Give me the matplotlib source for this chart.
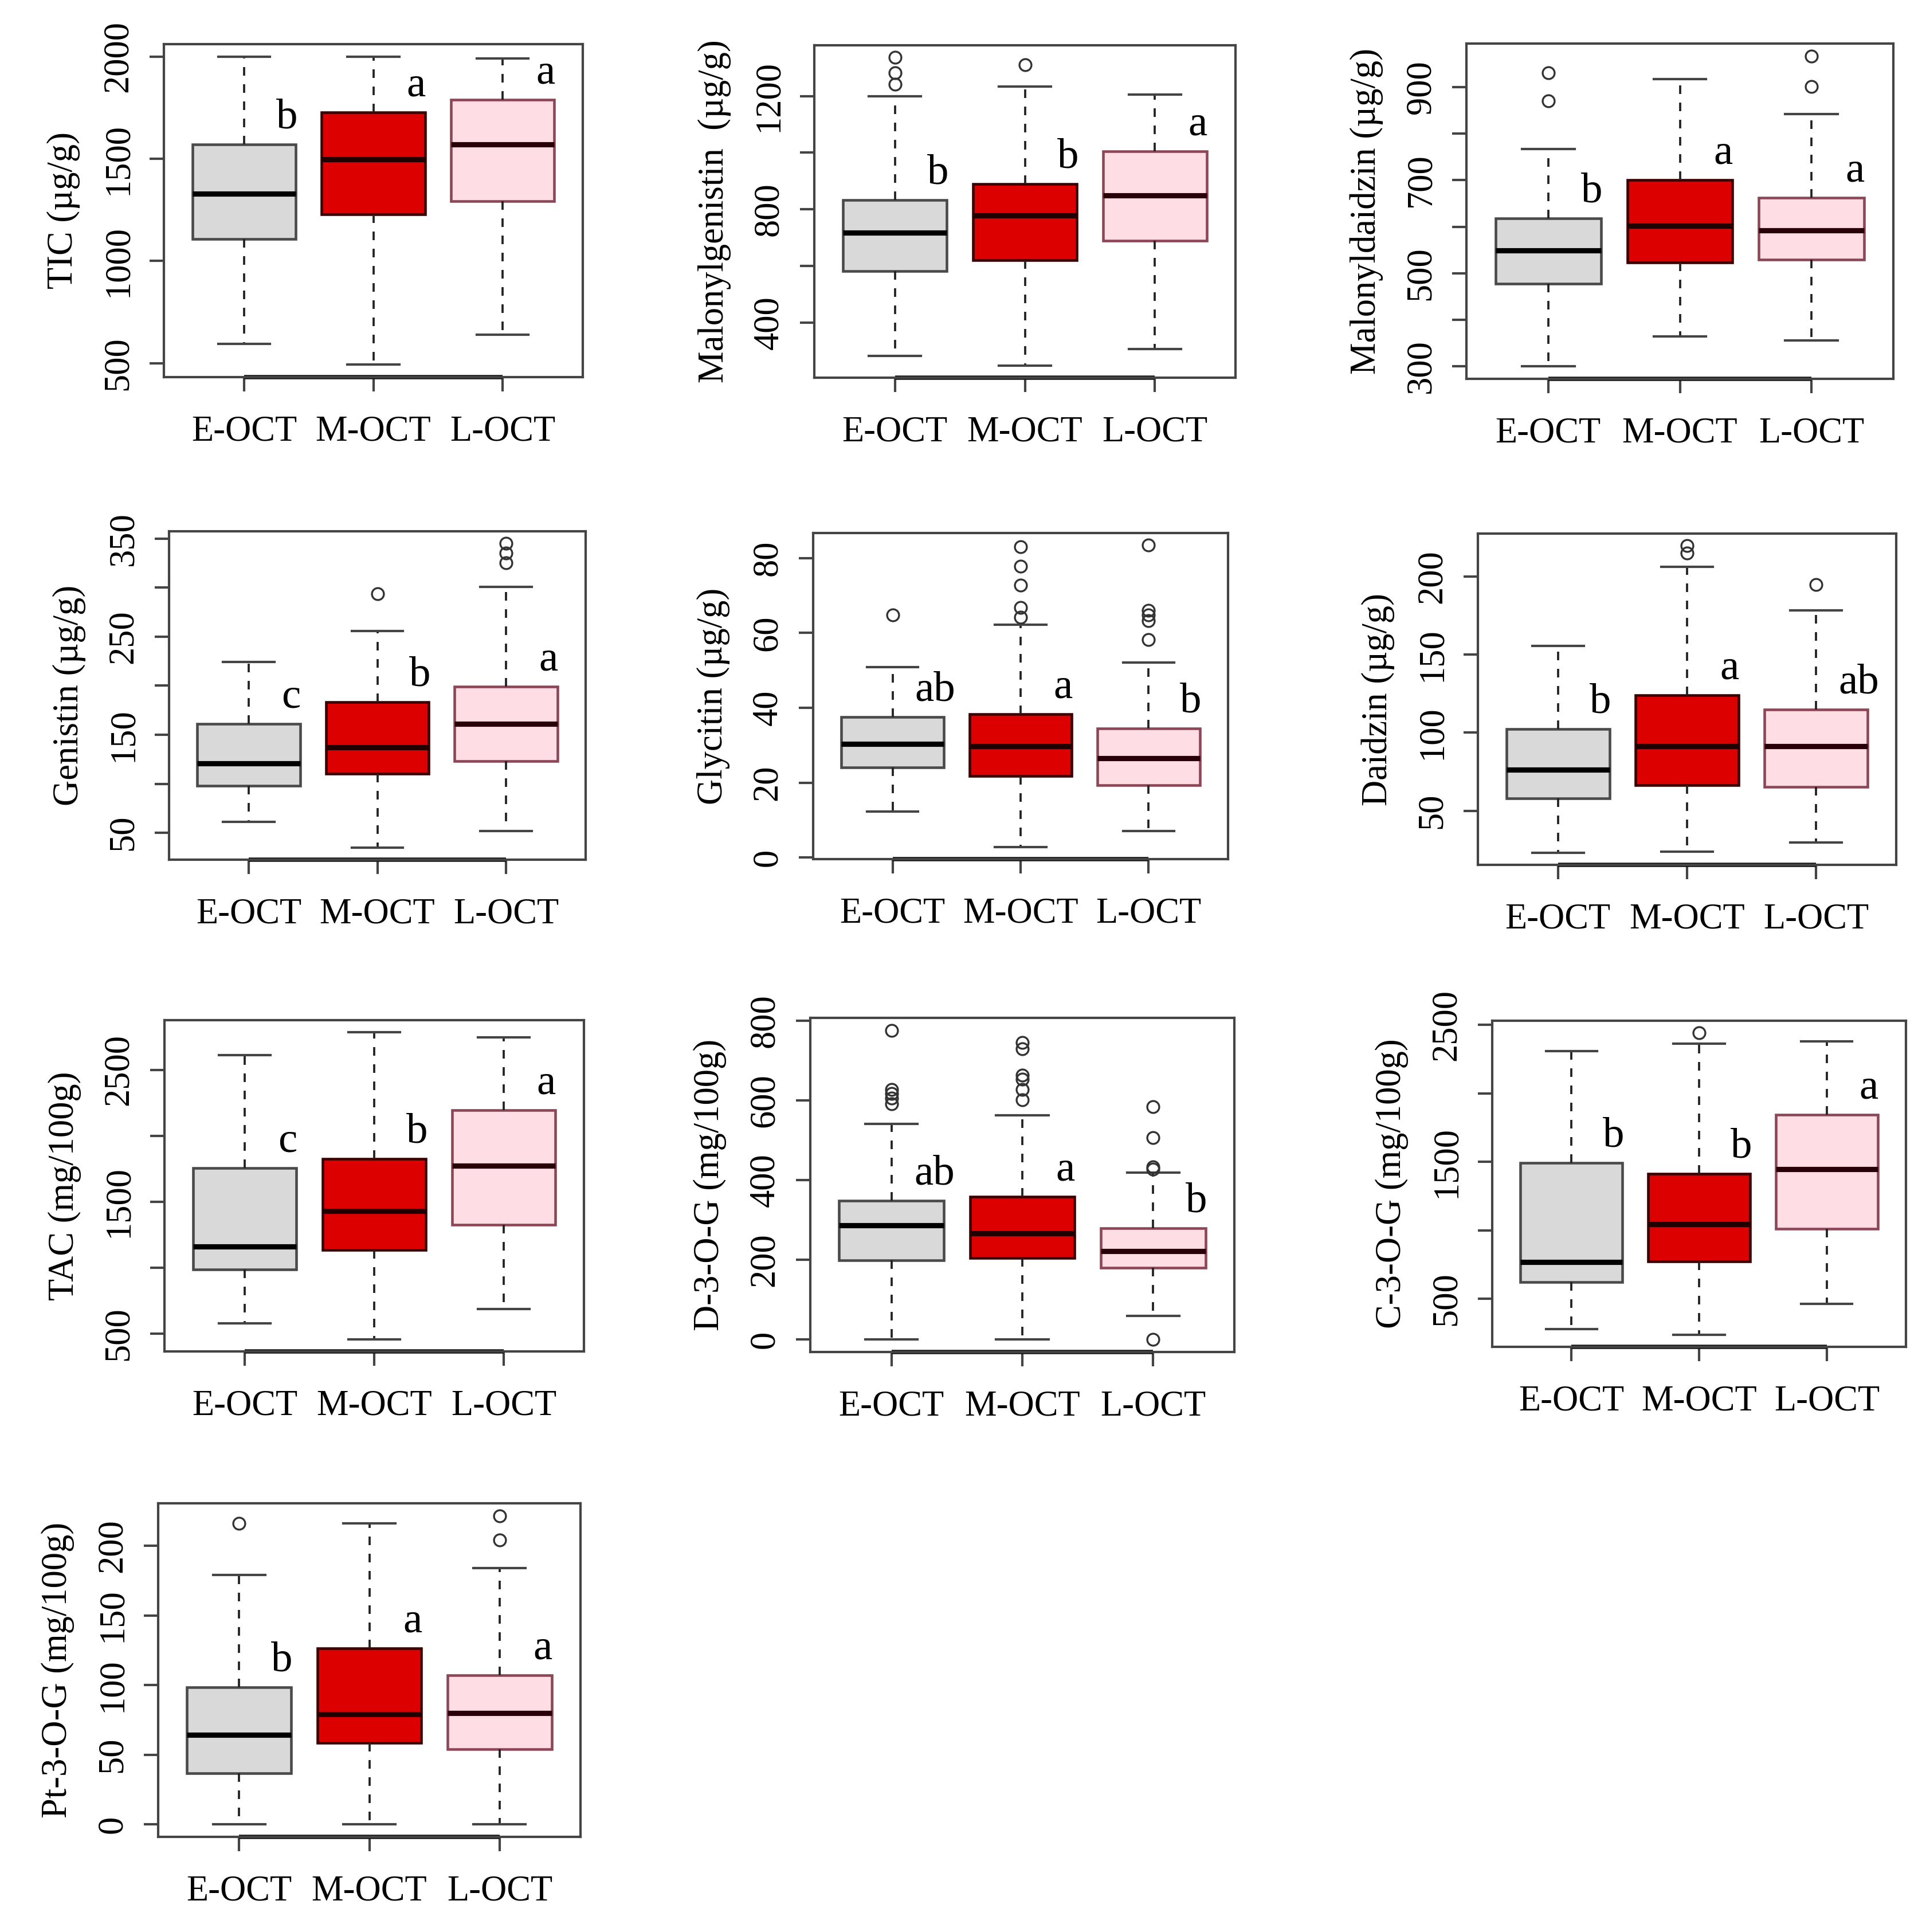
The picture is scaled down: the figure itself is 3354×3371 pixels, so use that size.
import matplotlib
matplotlib.use("Agg")
import matplotlib.pyplot as plt

plt.rcParams['font.family'] = ['Liberation Serif', 'DejaVu Serif']

# figure size in pixels
W, H = 3354, 3371
DPI = 300

groups = ["E-OCT", "M-OCT", "L-OCT"]
box_fill = ["#d9d9d9", "#dd0000", "#ffdde4"]
box_edge = ["#4a4a4a", "#3a0000", "#8c4656"]
med_color = ["#000000", "#220000", "#2a0008"]

#%% data: [whisker low, Q1, median, Q3, whisker high]
tic = [[596, 1107, 1329, 1569, 2000], [493, 1229, 1496, 1726, 2000], [639, 1293, 1569, 1789, 1990]]
tic_out = [[], [], []]
tic_let = ["b", "a", "a"]

mgen = [[282, 582, 717, 832, 1200], [249, 620, 779, 890, 1233], [307, 689, 849, 1006, 1205]]
mgen_out = [[1241, 1283, 1336], [1311], []]
mgen_let = ["b", "b", "a"]

mdai = [[300, 478, 549, 618, 767], [365, 523, 602, 701, 917], [356, 529, 592, 663, 842]]
mdai_out = [[870, 931], [], [901, 967]]
mdai_let = ["b", "a", "a"]

gen = [[61, 98, 121, 161, 224], [35, 110, 137, 183, 256], [52, 123, 161, 199, 301]]
gen_out = [[], [294], [325, 335, 345]]
gen_let = ["c", "b", "a"]

gly = [[12.3, 24.1, 30.4, 37.6, 50.9], [2.8, 21.8, 29.8, 38.4, 62.2], [7.1, 19.4, 26.5, 34.5, 52.1]]
gly_out = [[64.8], [64.2, 66.8, 72.8, 77.9, 83.1], [58.2, 63.3, 64.8, 66.0, 83.5]]
gly_let = ["ab", "a", "b"]

dai = [[23.2, 57.9, 76.3, 102.5, 155.6], [23.8, 66.5, 91.3, 123.9, 206.4], [29.8, 65.4, 91.3, 115.0, 178.4]]
dai_out = [[], [215.0, 219.7], [194.8]]
dai_let = ["b", "a", "ab"]

tac = [[580, 988, 1159, 1755, 2613], [458, 1136, 1428, 1826, 2783], [686, 1324, 1773, 2193, 2745]]
tac_out = [[], [], []]
tac_let = ["c", "b", "a"]

d3og = [[0, 199, 287, 349, 541], [0, 204, 267, 359, 562], [59, 180, 222, 279, 419]]
d3og_out = [[591, 606, 617, 628, 776], [602, 628, 653, 664, 730, 745], [0, 428, 433, 507, 584]]
d3og_let = ["ab", "a", "b"]

c3og = [[279, 623, 768, 1492, 2311], [237, 772, 1044, 1415, 2364], [464, 1012, 1447, 1846, 2381]]
c3og_out = [[], [2443], []]
c3og_let = ["b", "b", "a"]

pt3og = [[0, 36.6, 64.5, 98.5, 179], [0, 58.5, 79, 126.5, 216], [0, 54.2, 80, 107, 184]]
pt3og_out = [[216], [], [204, 221.5]]
pt3og_let = ["b", "a", "a"]

# panel layout: label, data, y ticks, labelled ticks, axes box in pixels (left, top, right, bottom)
panels = [
    ("TIC (µg/g)", tic, tic_out, tic_let, [500, 1000, 1500, 2000], [500, 1000, 1500, 2000], (286, 77, 1017, 658)),
    ("Malonylgenistin  (µg/g)", mgen, mgen_out, mgen_let, [400, 600, 800, 1000, 1200], [400, 800, 1200], (1421, 79, 2156, 659)),
    ("Malonyldaidzin (µg/g)", mdai, mdai_out, mdai_let, [300, 400, 500, 600, 700, 800, 900], [300, 500, 700, 900], (2559, 76, 3304, 661)),
    ("Genistin (µg/g)", gen, gen_out, gen_let, [50, 100, 150, 200, 250, 300, 350], [50, 150, 250, 350], (295, 927, 1022, 1500)),
    ("Glycitin (µg/g)", gly, gly_out, gly_let, [0, 20, 40, 60, 80], [0, 20, 40, 60, 80], (1419, 930, 2143, 1499)),
    ("Daidzin (µg/g)", dai, dai_out, dai_let, [50, 100, 150, 200], [50, 100, 150, 200], (2579, 931, 3309, 1509)),
    ("TAC (mg/100g)", tac, tac_out, tac_let, [500, 1000, 1500, 2000, 2500], [500, 1500, 2500], (287, 1780, 1019, 2358)),
    ("D-3-O-G (mg/100g)", d3og, d3og_out, d3og_let, [0, 200, 400, 600, 800], [0, 200, 400, 600, 800], (1414, 1776, 2154, 2359)),
    ("C-3-O-G (mg/100g)", c3og, c3og_out, c3og_let, [500, 1000, 1500, 2000, 2500], [500, 1500, 2500], (2604, 1781, 3326, 2350)),
    ("Pt-3-O-G (mg/100g)", pt3og, pt3og_out, pt3og_let, [0, 50, 100, 150, 200], [0, 50, 100, 150, 200], (276, 2623, 1013, 3205)),
]

fig = plt.figure(figsize=(W / DPI, H / DPI), dpi=DPI)

for ylab, stats, outs, letters, yt, ylabd, (l, t, r, b) in panels:
    ax = fig.add_axes([l / W, 1 - b / H, (r - l) / W, (b - t) / H])
    bstats = [dict(whislo=s[0], q1=s[1], med=s[2], q3=s[3], whishi=s[4], fliers=f)
              for s, f in zip(stats, outs)]
    art = ax.bxp(bstats, positions=[1, 2, 3], widths=0.8, capwidths=0.4,
                 patch_artist=True, showfliers=True,
                 whiskerprops=dict(linestyle=(0, (4, 4)), lw=0.9, color='#222222'),
                 capprops=dict(lw=1.0, color='#444444'),
                 medianprops=dict(lw=2.2, solid_capstyle='butt'),
                 flierprops=dict(marker='o', markersize=5, markerfacecolor='none',
                                 markeredgecolor='#333333', markeredgewidth=0.8))
    for patch, fc, ec in zip(art['boxes'], box_fill, box_edge):
        patch.set_facecolor(fc)
        patch.set_edgecolor(ec)
        patch.set_linewidth(1.1)
    for m, c in zip(art['medians'], med_color):
        m.set_color(c)

    # R style 4% padding of the data range
    lo = min(min(s[0] for s in stats), min([min(o) for o in outs if o] + [1e9]))
    hi = max(max(s[4] for s in stats), max([max(o) for o in outs if o] + [-1e9]))
    pad = 0.04 * (hi - lo)
    ax.set_ylim(lo - pad, hi + pad)
    ax.set_xlim(0.38, 3.62)

    for i, (s, let) in enumerate(zip(stats, letters)):
        ax.annotate(let, xy=(i + 1 + 0.33, s[3]), xytext=(0, 3), textcoords='offset points',
                    ha='center', va='bottom', fontsize=18)

    ax.set_xticks([1, 2, 3])
    ax.set_xticklabels(groups, fontsize=15)
    ax.set_yticks(yt)
    ax.set_yticklabels([str(v) if v in ylabd else '' for v in yt], fontsize=15,
                       rotation=90, va='center')
    ax.tick_params(axis='both', direction='out', length=6, width=1.0, color='#444444')
    ax.tick_params(axis='x', pad=10)
    ax.tick_params(axis='y', pad=6)
    for sp in ax.spines.values():
        sp.set_color('#444444')
        sp.set_linewidth(1.0)
    ax.plot([1, 3], [0, 0], transform=ax.get_xaxis_transform(), color='#111111',
            lw=1.8, clip_on=False, solid_capstyle='butt')
    ax.set_ylabel(ylab, fontsize=15, labelpad=9)

plt.savefig('out.png', dpi=DPI)
